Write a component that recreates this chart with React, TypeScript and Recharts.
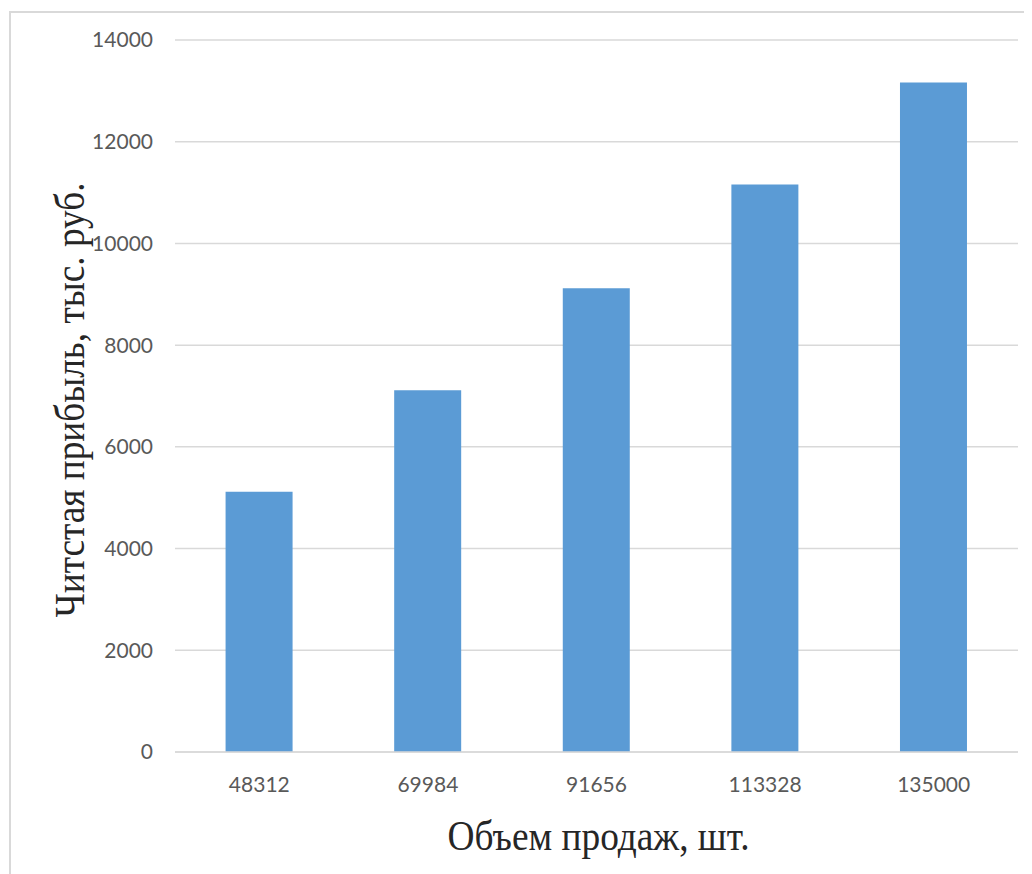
import { Bar, BarChart, CartesianGrid, XAxis, YAxis } from "recharts"

// Sales volume (pcs) and net profit (thousand rub.)
const volumes = ["48312", "69984", "91656", "113328", "135000"]
const profit = [5115, 7115, 9120, 11160, 13165]
const yTicks = [0, 2000, 4000, 6000, 8000, 10000, 12000, 14000]

const yTitle = "Читстая прибыль, тыс. руб."
const xTitle = "Объем продаж, шт."

const data = volumes.map((v, i) => ({ volume: v, profit: profit[i] }))

const tickStyle = { fontFamily: "Lato, 'Open Sans', sans-serif", fontSize: 21, fill: "#595959" }
const titleFont = "'Liberation Serif', 'Times New Roman', serif"

function YTitle(props: any) {
  const vb = props.viewBox || {}
  const cx = 76
  const cy = vb.y + vb.height / 2 + 4
  return (
    <text
      x={cx}
      y={cy}
      transform={`rotate(-90 ${cx} ${cy})`}
      textAnchor="middle"
      fontFamily={titleFont}
      fontSize={43}
      fill="#262626"
      textLength={435}
      lengthAdjust="spacingAndGlyphs"
    >
      {yTitle}
    </text>
  )
}

function XTitle(props: any) {
  const vb = props.viewBox || {}
  const cx = vb.x + vb.width / 2 + 2
  const cy = vb.y + 98
  return (
    <text
      x={cx}
      y={cy}
      textAnchor="middle"
      fontFamily={titleFont}
      fontSize={43}
      fill="#262626"
      textLength={302}
      lengthAdjust="spacingAndGlyphs"
    >
      {xTitle}
    </text>
  )
}

export default function App() {
  return (
    <div style={{ position: "relative", width: 1024, height: 866, overflow: "hidden", background: "#fff" }}>
      <div
        style={{
          position: "absolute",
          left: 1,
          top: 3,
          width: 1200,
          height: 1200,
          border: "2px solid #d9d9d9",
          boxSizing: "border-box",
        }}
      />
      <div style={{ position: "absolute", left: 0, top: 0 }}>
        <BarChart
          width={1024}
          height={866}
          data={data}
          margin={{ top: 32, right: 14, left: 0, bottom: 0 }}
          barCategoryGap="30%"
        >
          <CartesianGrid vertical={false} stroke="#d9d9d9" strokeWidth={1.5} />
          <XAxis
            dataKey="volume"
            height={122}
            axisLine={{ stroke: "#d9d9d9", strokeWidth: 1.5 }}
            tickLine={false}
            tickSize={0}
            tickMargin={25}
            tick={tickStyle}
            label={{ content: XTitle }}
          />
          <YAxis
            width={167}
            domain={[0, 14000]}
            ticks={yTicks}
            axisLine={false}
            tickLine={false}
            tickSize={0}
            tickMargin={22}
            tick={tickStyle}
            label={{ content: YTitle }}
          />
          <Bar dataKey="profit" fill="#5b9bd5" isAnimationActive={false} />
        </BarChart>
      </div>
    </div>
  )
}
